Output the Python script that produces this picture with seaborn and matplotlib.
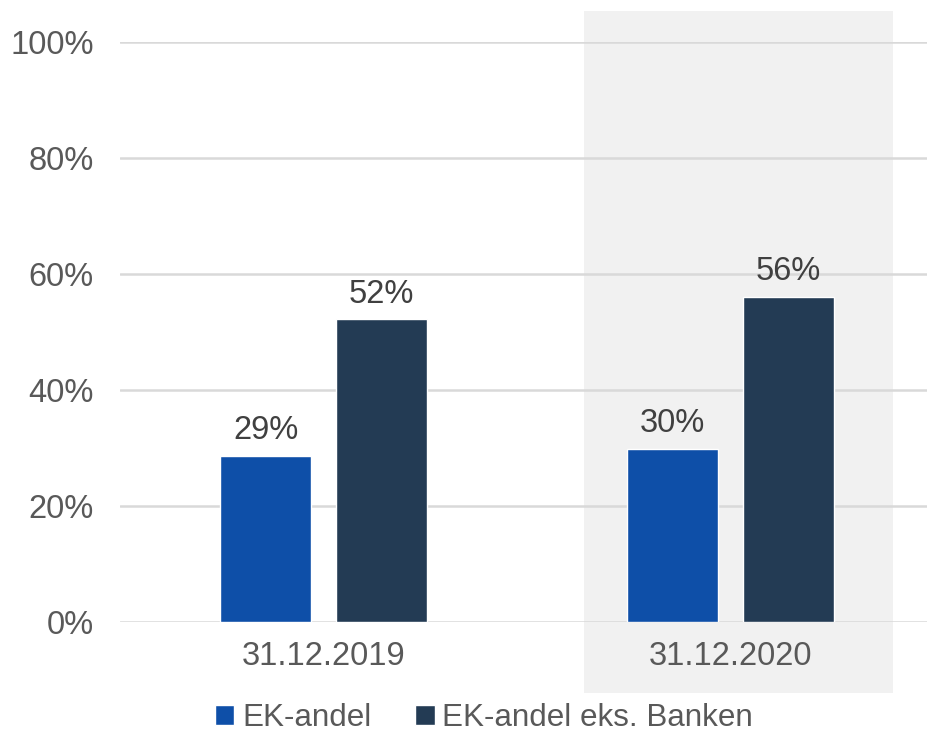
import matplotlib
matplotlib.use("Agg")
import matplotlib.pyplot as plt
from matplotlib.patches import Rectangle
from matplotlib.ticker import FuncFormatter
import seaborn as sns
import pandas as pd

# Equity ratio by reporting date
dates = ["31.12.2019", "31.12.2020"]
series = ["EK-andel", "EK-andel eks. Banken"]
ek_andel = [28.6, 29.8]
ek_andel_eks_banken = [52.2, 56.0]
y_ticks = [0, 20, 40, 60, 80, 100]

colors = ["#0E4FA8", "#233B54"]

df = pd.DataFrame({
    "dato": dates * 2,
    "serie": [series[0]] * 2 + [series[1]] * 2,
    "verdi": ek_andel + ek_andel_eks_banken,
})

sns.set_theme(style="white")
plt.rcParams["font.family"] = ["Liberation Sans", "DejaVu Sans"]

fig = plt.figure(figsize=(9.27, 7.35), dpi=100)
ax = fig.add_axes([0.1294, 0.1537, 0.8706, 0.7892])

# highlight of the latest period
ax.add_patch(Rectangle((0.640, -12.2), 0.759, 117.5, facecolor="#F1F1F1",
                       edgecolor="none", zorder=0, clip_on=False))

sns.barplot(data=df, x="dato", y="verdi", hue="serie", hue_order=series,
            palette=colors, width=0.566, gap=0.21, saturation=1,
            errorbar=None, ax=ax, legend=True, zorder=2)

for cont in ax.containers:
    ax.bar_label(cont, labels=[f"{v:.0f}%" for v in cont.datavalues],
                 padding=7, fontsize=23.5, color="#404040")

ax.set_xlim(-0.5, 1.483)
ax.set_ylim(0, 100)
ax.set_yticks(y_ticks)
ax.yaxis.set_major_formatter(FuncFormatter(lambda v, p: f"{v:.0f}%"))
ax.set_axisbelow(True)
ax.grid(axis="y", color="#D9D9D9", linewidth=1.8)
ax.grid(axis="x", visible=False)
for s in ax.spines.values():
    s.set_visible(False)
ax.patch.set_alpha(0)
ax.tick_params(axis="y", labelsize=23.5, labelcolor="#595959", length=0, pad=19)
ax.tick_params(axis="x", labelsize=23.5, labelcolor="#595959", length=0, pad=14)
ax.set_xlabel("")
ax.set_ylabel("")

handles, labels = ax.get_legend_handles_labels()
ax.get_legend().remove()
fig.legend(handles, labels, loc="center", bbox_to_anchor=(0.522, 0.023),
           ncol=2, frameon=False, fontsize=22.6, handlelength=0.62,
           handleheight=0.62, handletextpad=0.25, columnspacing=1.4,
           labelcolor="#595959")

fig.savefig("out.png", dpi=100)
